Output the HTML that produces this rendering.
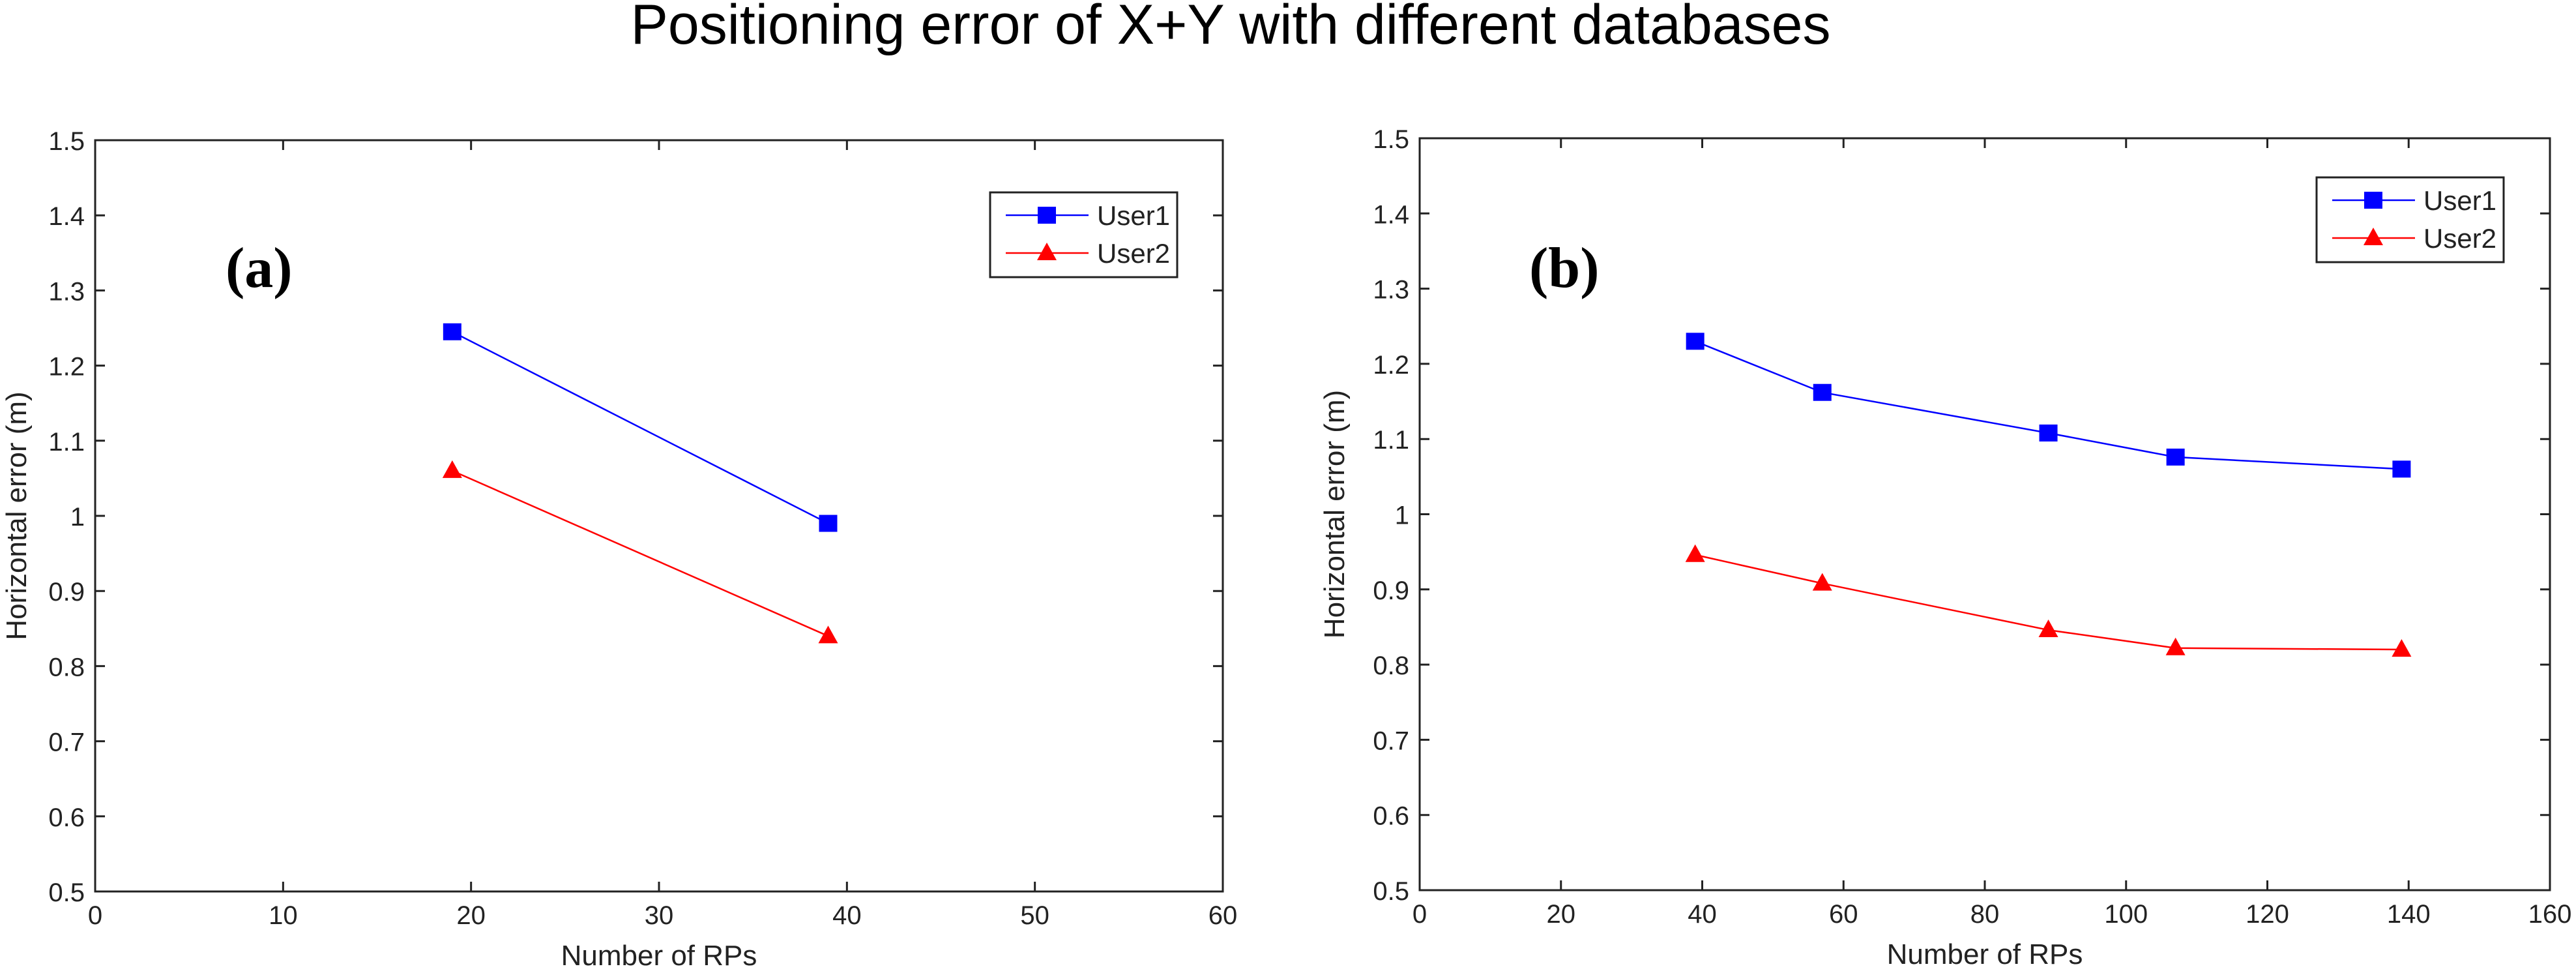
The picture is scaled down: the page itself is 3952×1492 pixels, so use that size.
<!DOCTYPE html>
<html><head><meta charset="utf-8"><style>
html,body{margin:0;padding:0;background:#fff;}
svg{display:block;font-family:"Liberation Sans",Arial,sans-serif;}
</style></head><body>
<svg id="fig" width="3952" height="1492" viewBox="0 0 3952 1492" xmlns="http://www.w3.org/2000/svg">
<rect width="3952" height="1492" fill="#fff"/>
<text x="1888" y="67" font-size="86" text-anchor="middle" textLength="1841" lengthAdjust="spacingAndGlyphs">Positioning error of X+Y with different databases</text>
<g id="chartA"></g>
<g id="chartB"></g>
</svg>
<script>
const NS='http://www.w3.org/2000/svg';
// Chart (a) data
const catsA=[19,39];
const user1A=[1.245,0.99];
const user2A=[1.06,0.84];
const xTicksA=[0,10,20,30,40,50,60];
// Chart (b) data
const catsB=[39,57,89,107,139];
const user1B=[1.23,1.162,1.108,1.076,1.06];
const user2B=[0.946,0.908,0.846,0.822,0.82];
const xTicksB=[0,20,40,60,80,100,120,140,160];
const yTicks=[0.5,0.6,0.7,0.8,0.9,1,1.1,1.2,1.3,1.4,1.5];
const seriesNames=['User1','User2'];

function mk(tag,attrs,parent){const e=document.createElementNS(NS,tag);for(const k in attrs)e.setAttribute(k,attrs[k]);parent.appendChild(e);return e;}

function drawChart(g,cfg,cats,s1,s2,xTicks,tag){
  const L=cfg.L,R=cfg.R,T=cfg.T,B=cfg.B;
  const xmin=xTicks[0],xmax=xTicks[xTicks.length-1];
  const X=v=>L+(v-xmin)/(xmax-xmin)*(R-L);
  const Y=v=>B-(v-0.5)/(1.0)*(B-T);
  const frame=mk('rect',{x:L,y:T,width:R-L,height:B-T,fill:'none',stroke:'#222','stroke-width':3},g);
  
  
  xTicks.forEach(t=>{
    const x=X(t);
    const tk=mk('path',{d:`M${x},${B}v-15M${x},${T}v15`,stroke:'#222','stroke-width':3},g);
    
    
    const lb=mk('text',{x:x,y:B+50,'font-size':40,'text-anchor':'middle',fill:'#222'},g);
    lb.textContent=t;
    
    
  });
  yTicks.forEach(t=>{
    const y=Y(t);
    const tk=mk('path',{d:`M${L},${y}h15M${R},${y}h-15`,stroke:'#222','stroke-width':3},g);
    
    
    const lb=mk('text',{x:L-16,y:y+15,'font-size':40,'text-anchor':'end',fill:'#222'},g);
    lb.textContent=String(t);
    
    
  });
  const xl=mk('text',{x:(L+R)/2,y:B+113,'font-size':44,'text-anchor':'middle',fill:'#222'},g);
  xl.textContent='Number of RPs';
  
  
  const yx=cfg.yl,yy=(T+B)/2;
  const yl=mk('text',{x:yx,y:yy,'font-size':44,'text-anchor':'middle',fill:'#222',transform:`rotate(-90 ${yx} ${yy})`},g);
  yl.textContent='Horizontal error (m)';
  
  
  const pl=mk('text',{x:cfg.tagX,y:cfg.tagY,'font-size':88,'font-weight':'bold','font-family':'"Liberation Serif",serif',fill:'#000'},g);
  pl.textContent=tag;
  
  
  // series
  const p1=mk('polyline',{points:cats.map((c,i)=>X(c)+','+Y(s1[i])).join(' '),fill:'none',stroke:'#0000ff','stroke-width':2.5},g);
  
  
  const p2=mk('polyline',{points:cats.map((c,i)=>X(c)+','+Y(s2[i])).join(' '),fill:'none',stroke:'#ff0000','stroke-width':2.5},g);
  
  
  cats.forEach((c,i)=>{
    const m=mk('rect',{x:X(c)-14,y:Y(s1[i])-13,width:28,height:26,fill:'#0000ff'},g);
    
    
    const x=X(c),y=Y(s2[i]);
    const t=mk('polygon',{points:`${x},${y-16} ${x-15},${y+11} ${x+15},${y+11}`,fill:'#ff0000'},g);
    
    
  });
  // legend
  const lx=cfg.lgX,ly=cfg.lgY;
  const lg=mk('g',{},g);
  
  
  mk('rect',{x:lx,y:ly,width:287,height:130,fill:'#fff',stroke:'#222','stroke-width':3},lg);
  const colors=['#0000ff','#ff0000'];
  seriesNames.forEach((n,k)=>{
    const yy2=ly+(k===0?35:93);
    const en=mk('g',{},lg);
    
    
    mk('line',{x1:lx+24,x2:lx+151,y1:yy2,y2:yy2,stroke:colors[k],'stroke-width':2.5},en);
    const cx=lx+87;
    if(k===0) mk('rect',{x:cx-14,y:yy2-13,width:28,height:26,fill:colors[k]},en);
    else mk('polygon',{points:`${cx},${yy2-16} ${cx-15},${yy2+11} ${cx+15},${yy2+11}`,fill:colors[k]},en);
    const tx=mk('text',{x:lx+164,y:yy2+15,'font-size':42,fill:'#222'},en);
    tx.textContent=n;
  });
}
drawChart(document.getElementById('chartA'),{L:146,R:1876,T:215,B:1367,yl:40,tagX:346,tagY:440,lgX:1519,lgY:295},catsA,user1A,user2A,xTicksA,'(a)');
drawChart(document.getElementById('chartB'),{L:2178,R:3912,T:212,B:1365,yl:2062,tagX:2346,tagY:440,lgX:3554,lgY:272},catsB,user1B,user2B,xTicksB,'(b)');
</script>
</body></html>
